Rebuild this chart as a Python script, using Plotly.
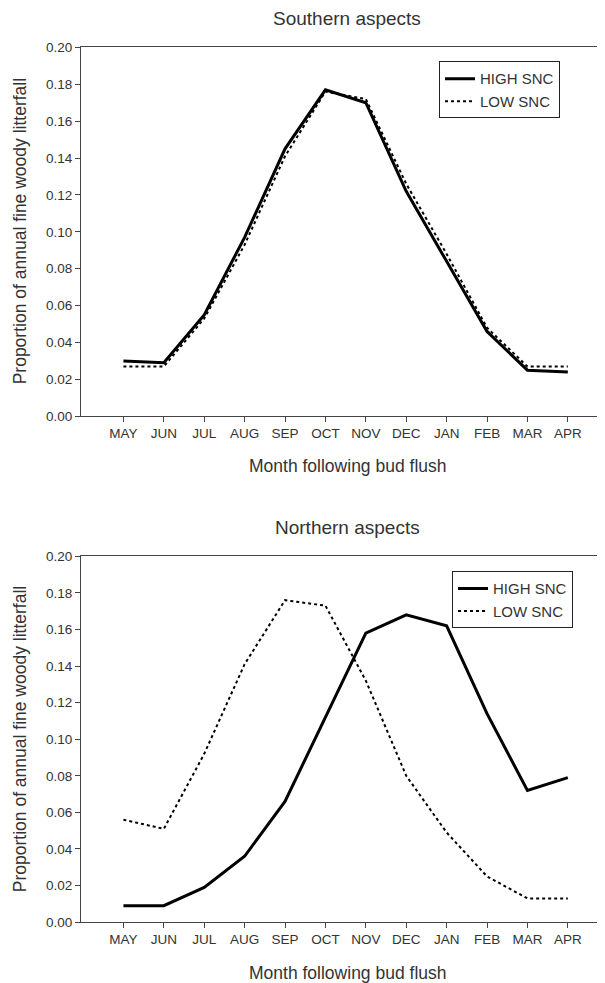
import plotly.graph_objects as go

months = ["MAY", "JUN", "JUL", "AUG", "SEP", "OCT", "NOV", "DEC", "JAN", "FEB", "MAR", "APR"]

south_high = [0.030, 0.029, 0.055, 0.097, 0.145, 0.177, 0.170, 0.122, 0.084, 0.046, 0.025, 0.024]
south_low = [0.027, 0.027, 0.053, 0.093, 0.141, 0.176, 0.172, 0.126, 0.088, 0.048, 0.027, 0.027]

north_high = [0.009, 0.009, 0.019, 0.036, 0.066, 0.112, 0.158, 0.168, 0.162, 0.114, 0.072, 0.079]
north_low = [0.056, 0.051, 0.092, 0.141, 0.176, 0.173, 0.132, 0.080, 0.049, 0.025, 0.013, 0.013]

series_names = ["HIGH SNC", "LOW SNC"]
panel_titles = ["Southern aspects", "Northern aspects"]
x_title = "Month following bud flush"
y_title = "Proportion of annual fine woody litterfall"

OFFX = 8
W, H = 605 - OFFX, 983
FONT = "Liberation Sans, Arial, sans-serif"
TXT = "#333333"

def px(xw):
    return (xw - OFFX) / W

def py(yw):
    yf = (yw - 14.6) / 0.985
    return 1 - yf / H

fig = go.Figure()

def add_pair(high, low, xa, ya, legend):
    fig.add_trace(go.Scatter(x=months, y=high, mode="lines", name=series_names[0],
                             line=dict(color="black", width=3), xaxis=xa, yaxis=ya, legend=legend))
    fig.add_trace(go.Scatter(x=months, y=low, mode="lines", name=series_names[1],
                             line=dict(color="black", width=2, dash="dot"), xaxis=xa, yaxis=ya, legend=legend))

add_pair(south_high, south_low, "x", "y", "legend")
add_pair(north_high, north_low, "x2", "y2", "legend2")

xcommon = dict(type="category", range=[-1.05, 11.92], domain=[px(81), 1.0], showline=True, mirror=True,
               linecolor="#444444", linewidth=1, ticks="outside", ticklen=5, tickcolor="#444444",
               tickfont=dict(family=FONT, size=13.5, color=TXT), showgrid=False, zeroline=False)
ycommon = dict(range=[0, 0.2], dtick=0.02, tickformat=".2f", showline=True, linecolor="#444444",
               linewidth=1, ticks="outside", ticklen=5, tickcolor="#444444",
               tickfont=dict(family=FONT, size=13.5, color=TXT), showgrid=False, zeroline=False)

leg_common = dict(xanchor="left", yanchor="top", bordercolor="#222222", borderwidth=1, bgcolor="white",
                  font=dict(family=FONT, size=15, color=TXT), tracegroupgap=0, itemwidth=30)

fig.update_layout(
    width=W, height=H, margin=dict(l=0, r=0, t=0, b=0),
    paper_bgcolor="white", plot_bgcolor="white",
    font=dict(family=FONT, color=TXT),
    xaxis=dict(**xcommon, anchor="y"),
    yaxis=dict(**ycommon, domain=[py(416), py(47)], anchor="x"),
    xaxis2=dict(**xcommon, anchor="y2"),
    yaxis2=dict(**ycommon, domain=[py(922), py(556)], anchor="x2"),
    legend=dict(x=px(439), y=py(61), **leg_common),
    legend2=dict(x=px(452), y=py(571), **leg_common),
)

ann = []
for t, ypx in zip(panel_titles, [18, 527]):
    ann.append(dict(text=t, x=px(347), y=py(ypx), xref="paper", yref="paper", showarrow=False,
                    xanchor="center", yanchor="middle", font=dict(family=FONT, size=19, color=TXT)))
for ypx in [466, 973]:
    ann.append(dict(text=x_title, x=px(347), y=py(ypx), xref="paper", yref="paper", showarrow=False,
                    xanchor="center", yanchor="middle", font=dict(family=FONT, size=17.5, color=TXT)))
for ycen in [231, 739]:
    ann.append(dict(text=y_title, x=px(20), y=py(ycen), xref="paper", yref="paper", showarrow=False,
                    textangle=-90, xanchor="center", yanchor="middle", font=dict(family=FONT, size=17.5, color=TXT)))
fig.update_layout(annotations=ann)

fig.write_html("out.html")
